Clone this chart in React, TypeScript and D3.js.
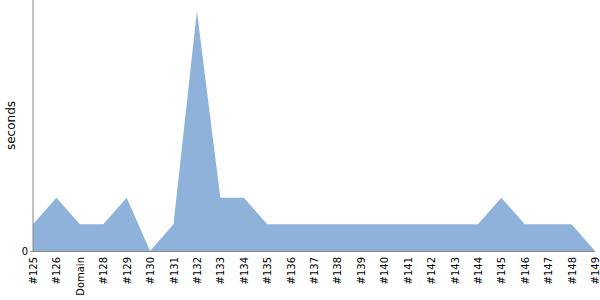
import React from "react";
import * as d3 from "d3";

const categories = ["#125","#126","Domain","#128","#129","#130","#131","#132","#133","#134","#135","#136","#137","#138","#139","#140","#141","#142","#143","#144","#145","#146","#147","#148","#149"];
const seconds = [1,2,1,1,2,0,1,9,2,2,1,1,1,1,1,1,1,1,1,1,2,1,1,1,0];
const yTicks = [0];

export default function App() {
  const W = 600, H = 300;
  const left = 33, right = 595, bottom = 251, top = 11;
  const x = d3.scalePoint<string>().domain(categories).range([left, right]);
  const y = d3.scaleLinear().domain([0, 9]).range([bottom, top]);
  const area = d3.area<number>()
    .x((_, i) => x(categories[i]) as number)
    .y0(bottom)
    .y1((d) => y(d));
  const font = "'DejaVu Sans', Verdana, sans-serif";
  return (
    <svg width={W} height={H} style={{ position: "absolute", left: 0, top: 0, fontFamily: font }}>
      <path d={area(seconds) || ""} fill="#8fb2db" />
      <line x1={left} x2={left} y1={0} y2={bottom} stroke="#888" strokeWidth={1} />
      <line x1={left} x2={right} y1={bottom + 0.5} y2={bottom + 0.5} stroke="#888" strokeWidth={1} />
      {yTicks.map((t) => (
        <g key={t}>
          <line x1={left - 3} x2={left} y1={y(t) + 0.5} y2={y(t) + 0.5} stroke="#888" />
          <text x={left - 5} y={y(t)} dy="0.35em" textAnchor="end" fontSize={10} style={{ fontFamily: font }} fill="#000">{t}</text>
        </g>
      ))}
      <text transform={`translate(15,${(0 + bottom) / 2}) rotate(-90)`} textAnchor="middle" fontSize={12} style={{ fontFamily: font }} fill="#000">seconds</text>
      {categories.map((c) => (
        <text key={c} transform={`translate(${(x(c) as number) + 4},${bottom + 6}) rotate(-90)`} textAnchor="end" fontSize={10} style={{ fontFamily: font }} fill="#000">{c}</text>
      ))}
    </svg>
  );
}
